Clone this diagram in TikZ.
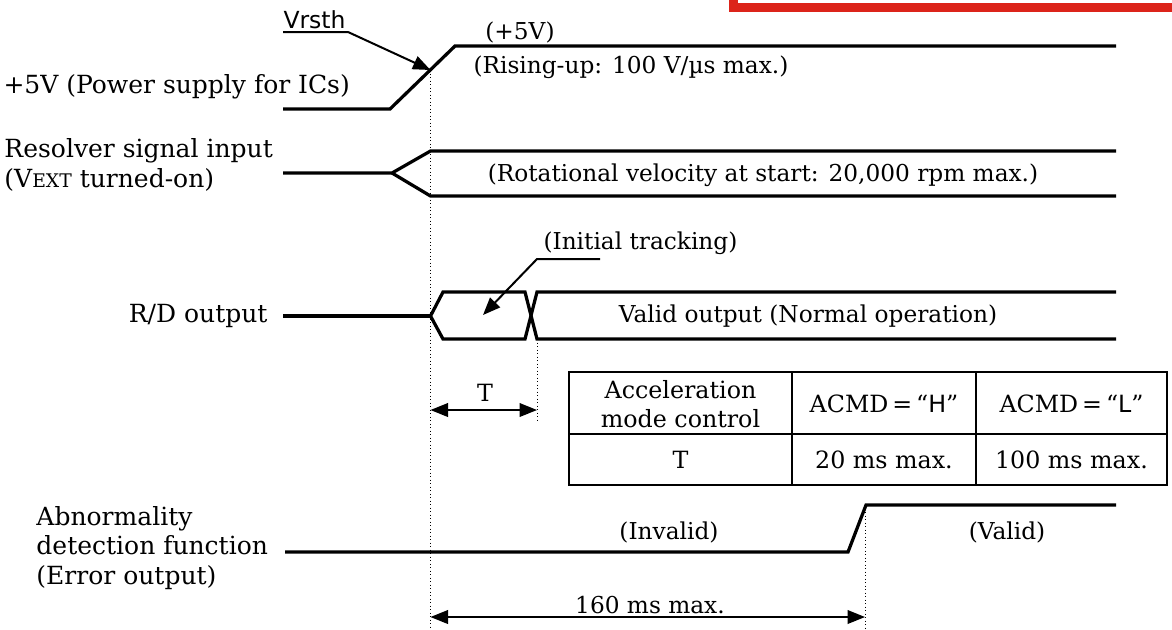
\documentclass[tikz,border=0pt]{standalone}
\usepackage{fontspec}
\setmainfont{DejaVu Serif}
\setsansfont{DejaVu Sans}
\usetikzlibrary{arrows.meta}
\usetikzlibrary{positioning}
\definecolor{framered}{RGB}{220,36,26}
\newcommand{\smallcaps}[1]{{\fontsize{7.5}{9}\selectfont #1}}

\begin{document}
\begin{tikzpicture}[x=0.4pt,y=-0.4pt,
  sig/.style={line width=1.3pt},
  guide/.style={densely dotted,line width=0.4pt},
  lead/.style={line width=0.8pt},
  dim/.style={line width=0.6pt,<->},
  grid/.style={line width=0.7pt},
  txt/.style={font=\fontsize{9.3}{11.8}\selectfont,inner sep=0pt},
  cell/.style={font=\fontsize{9.5}{11.8}\selectfont,inner sep=0pt,align=center},
  lbl/.style={font=\fontsize{10}{11.8}\selectfont,inner sep=0pt,align=left},
  >={Triangle[length=7pt,width=5.5pt]}]
  \useasboundingbox (0,0) rectangle (1172,629);
  % edge of a red frame, cut by the top border
  \fill[framered] (729,-10) rectangle (1180,12);
  \fill[white] (738,-10) rectangle (1180,3);

  % +5V supply
  \coordinate (p0) at (283,109);
  \coordinate (p1) at (390,109);
  \coordinate (p2) at (455,46);
  \coordinate (p3) at (1116,46);
  \draw [sig] (p0) -- (p1) -- (p2) -- (p3);
  \node [lbl,anchor=west] (vcc) at (3,87) {+5V (Power supply for ICs)};
  \node [txt] (high) at (520,32) {(+5V)};
  \node [txt,anchor=west] (rise) at (473,67) {(Rising-up: 100 V/µs max.)};
  \node [font=\sffamily\fontsize{9.4}{11}\selectfont,inner sep=0pt,anchor=base west] (vrsth) at (283,28) {Vrsth};
  \coordinate (ul) at (283,32);
  \coordinate (ur) at (348,32);
  \coordinate (vth) at (430.5,70);
  \draw [lead,->] (ul) -- (ur) -- (vth);
  \coordinate (g1) at (430.5,629);
  \draw [guide] (vth) -- (g1);

  % resolver input
  \coordinate (r0) at (283,173);
  \coordinate (r1) at (392,173);
  \coordinate (r2) at (430.5,151);
  \coordinate (r3) at (1116,151);
  \coordinate (r4) at (430.5,196);
  \coordinate (r5) at (1116,196);
  \draw [sig] (r0) -- (r1) -- (r2) -- (r3);
  \draw [sig] (r1) -- (r4) -- (r5);
  \node [lbl,anchor=west] (res) at (4,165) {Resolver signal input\\(V\smallcaps{EXT} turned-on)};
  \node [txt] (rot) at (763,175) {(Rotational velocity at start: 20,000 rpm max.)};

  % R/D output
  \coordinate (d0) at (283,316);
  \coordinate (d1) at (430.5,316);
  \coordinate (d2) at (443,292);
  \coordinate (d3) at (525,292);
  \coordinate (d4) at (443,339);
  \coordinate (d5) at (525,339);
  \coordinate (d6) at (537,292);
  \coordinate (d7) at (537,339);
  \coordinate (d8) at (1116,292);
  \coordinate (d9) at (1116,339);
  \draw [sig] (d0) -- (d1);
  \draw [sig] (d1) -- (d2) -- (d3) -- (d7) -- (d9);
  \draw [sig] (d1) -- (d4) -- (d5) -- (d6) -- (d8);
  \node [lbl,anchor=east] (rd) at (268,316) {R/D output};
  \node [txt] (valid) at (808,316) {Valid output (Normal operation)};
  \node [txt,anchor=west] (init) at (543,243) {(Initial tracking)};
  \coordinate (i0) at (600,259);
  \coordinate (i1) at (537,259);
  \coordinate (i2) at (483,315);
  \draw [lead,->] (i0) -- (i1) -- (i2);
  \coordinate (g2) at (537,423);
  \draw [guide] (d7) -- (g2);
  \coordinate (t0) at (430.5,410);
  \coordinate (t1) at (537,410);
  \draw [dim] (t0) -- (t1);
  \node [cell] (tlab) at (485,393) {T};

  % acceleration mode table
  \draw [grid] (569,372) rectangle (1167,485);
  \draw [grid] (569,434) -- (1167,434);
  \draw [grid] (792,372) -- (792,485);
  \draw [grid] (976,372) -- (976,485);
  \node [cell] (acc) at (680.5,404) {Acceleration\\mode control};
  \node [cell] (acmdh) at (884,404) {ACMD\,=\,“\textsf{H}”};
  \node [cell] (acmdl) at (1071.5,404) {ACMD\,=\,“\textsf{L}”};
  \node [cell] (tcell) at (680.5,460) {T};
  \node [cell] (tmax1) at (884,460) {20 ms max.};
  \node [cell] (tmax2) at (1071.5,460) {100 ms max.};

  % abnormality detection
  \coordinate (e0) at (285,552);
  \coordinate (e1) at (848,552);
  \coordinate (e2) at (866,505);
  \coordinate (e3) at (1116,505);
  \draw [sig] (e0) -- (e1) -- (e2) -- (e3);
  \node [lbl,anchor=west] (err) at (36,548) {Abnormality\\detection function\\(Error output)};
  \node [txt] (inv) at (669,532) {(Invalid)};
  \node [txt] (val) at (1007,532) {(Valid)};
  \coordinate (g3a) at (865,505);
  \coordinate (g3b) at (865,629);
  \draw [guide] (g3a) -- (g3b);
  \coordinate (m0) at (430.5,617);
  \coordinate (m1) at (865,617);
  \draw [dim] (m0) -- (m1);
  \node [txt] (max) at (650,605) {160 ms max.};
\end{tikzpicture}
\end{document}
